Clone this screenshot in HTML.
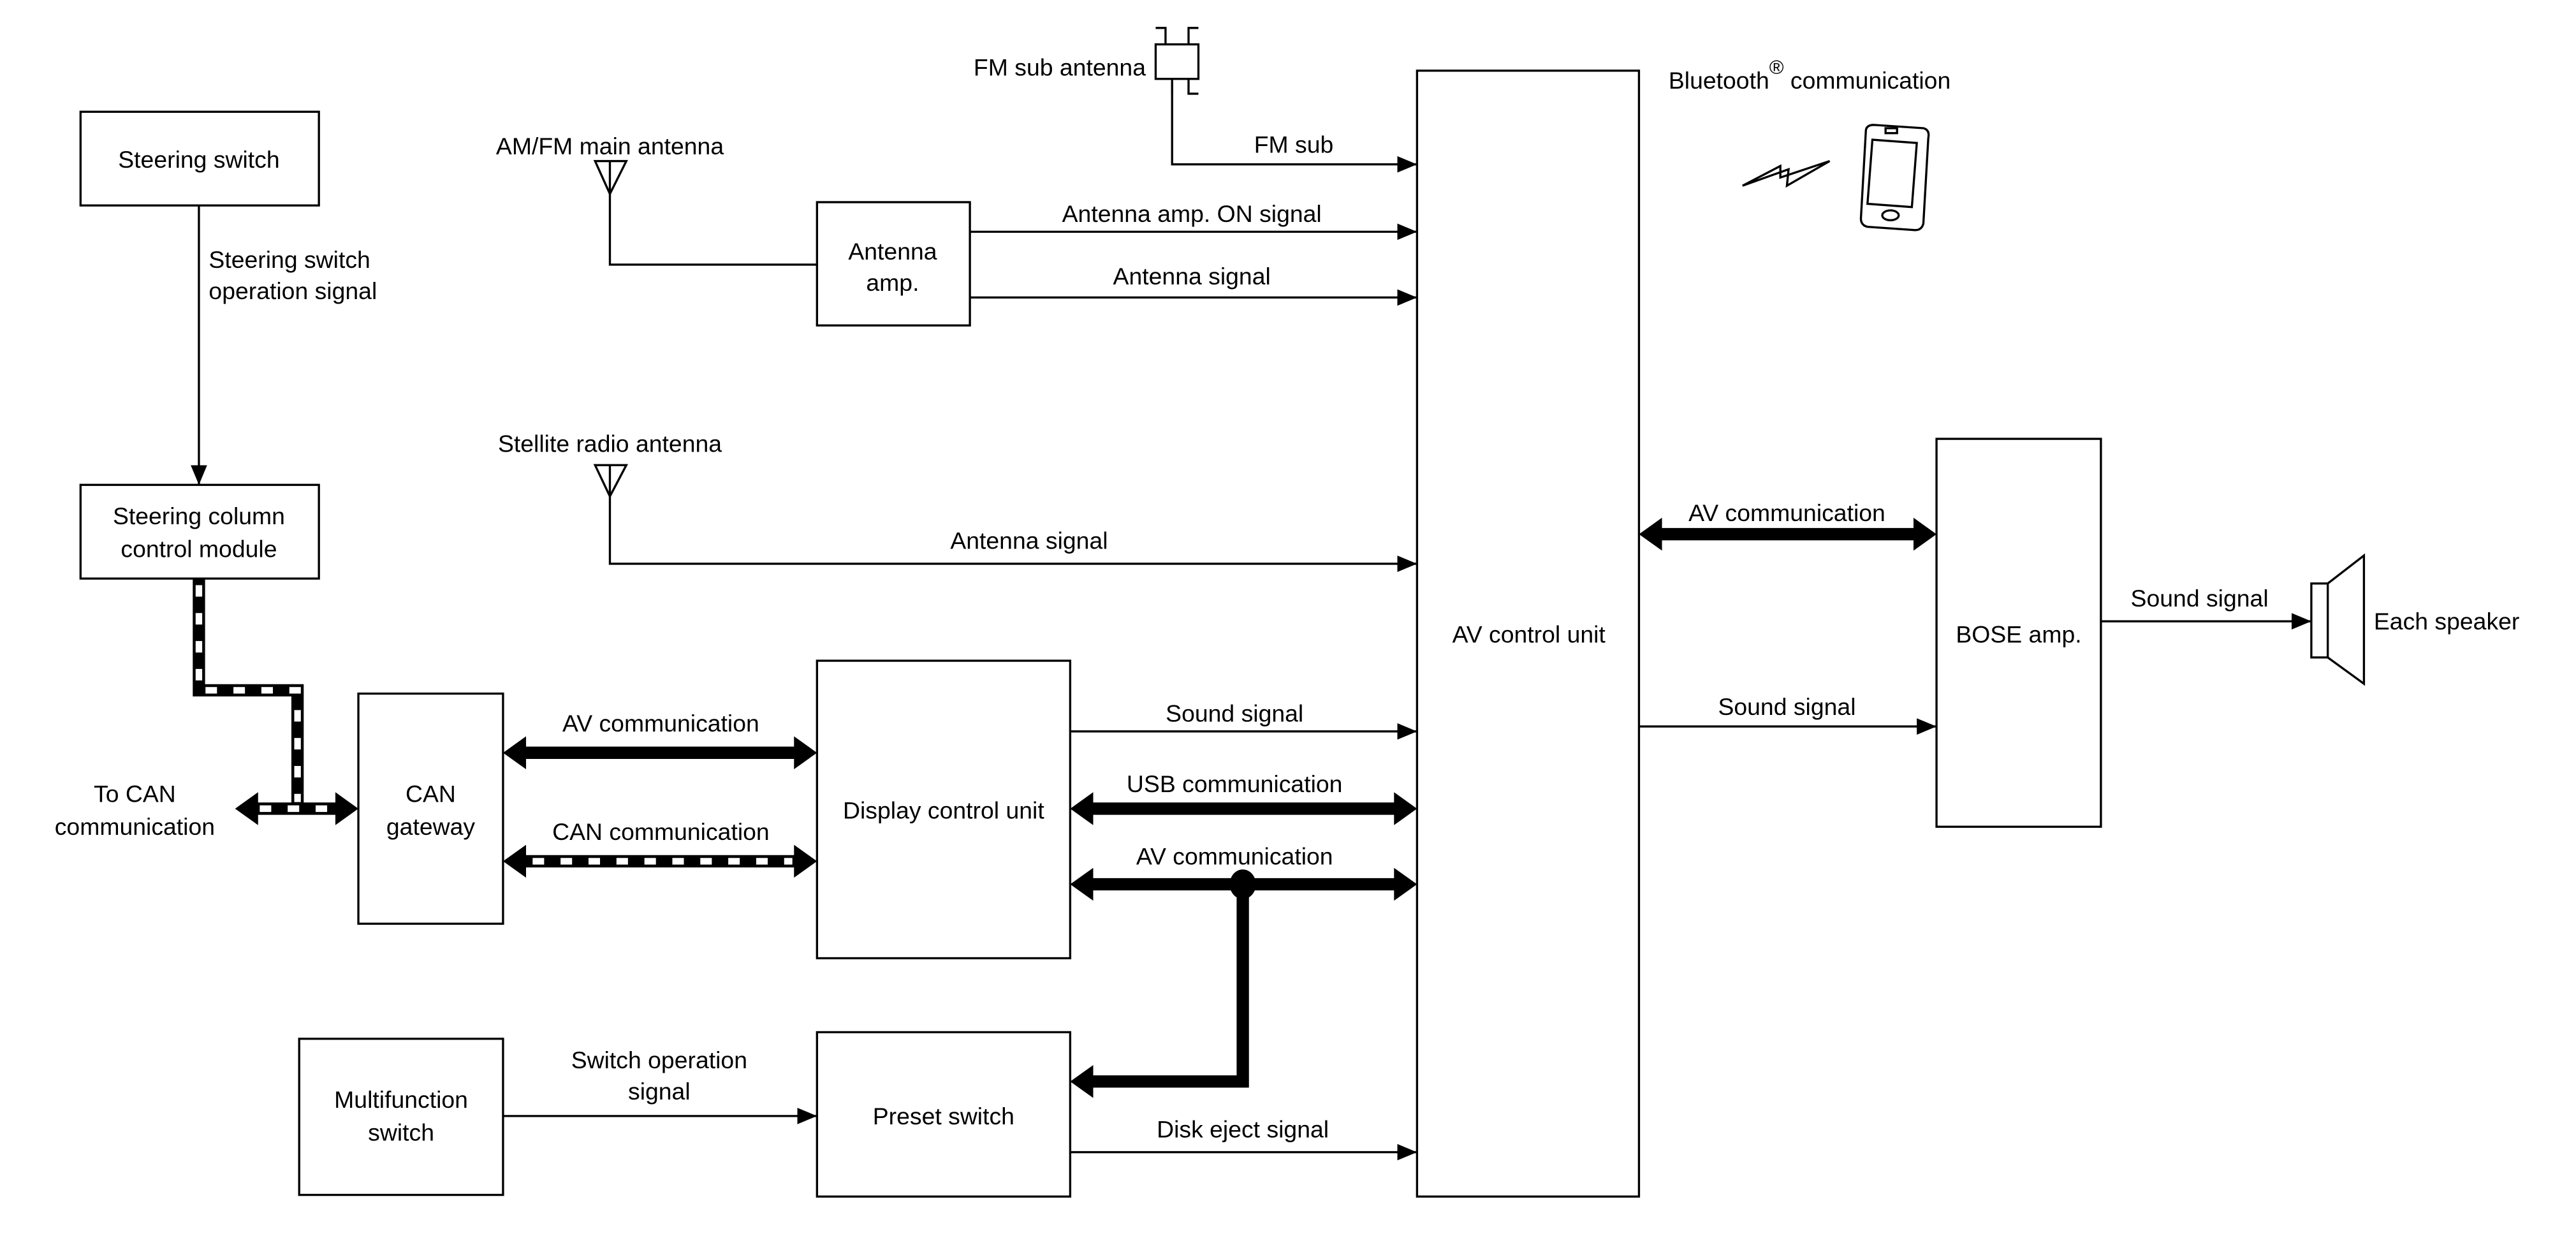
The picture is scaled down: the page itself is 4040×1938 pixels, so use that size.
<!DOCTYPE html>
<html><head><style>html,body{margin:0;padding:0;background:#fff}svg{display:block}text{font-family:"Liberation Sans",Arial,sans-serif;font-size:14.5px;fill:#000}</style></head>
<body>
<svg width="4040" height="1938" viewBox="0 0 1567 752" preserveAspectRatio="none" xmlns="http://www.w3.org/2000/svg">
<defs>
<marker id="a" markerWidth="12" markerHeight="10" refX="12" refY="5" orient="auto" markerUnits="userSpaceOnUse"><path d="M0,0 L12,5 L0,10z" fill="#000"/></marker>
</defs>
<g fill="none" stroke="#000" stroke-width="1.3">
<rect x="49" y="68" width="145" height="57"/>
<rect x="49" y="295" width="145" height="57"/>
<rect x="218" y="422" width="88" height="140"/>
<rect x="497" y="402" width="154" height="181"/>
<rect x="497" y="628" width="154" height="100"/>
<rect x="182" y="632" width="124" height="95"/>
<rect x="862" y="43" width="135" height="685"/>
<rect x="497" y="123" width="93" height="75"/>
<rect x="1178" y="267" width="100" height="236"/>
<line x1="121" y1="125" x2="121" y2="295" marker-end="url(#a)"/>
<line x1="651" y1="445" x2="862" y2="445" marker-end="url(#a)"/>
<line x1="651" y1="701" x2="862" y2="701" marker-end="url(#a)"/>
<line x1="306" y1="679" x2="497" y2="679" marker-end="url(#a)"/>
<polyline points="713,50 713,100 862,100" marker-end="url(#a)"/>
<polyline points="371,118 371,161 497,161"/>
<line x1="590" y1="141" x2="862" y2="141" marker-end="url(#a)"/>
<line x1="590" y1="181" x2="862" y2="181" marker-end="url(#a)"/>
<polyline points="371,302 371,343 862,343" marker-end="url(#a)"/>
<line x1="997" y1="442" x2="1178" y2="442" marker-end="url(#a)"/>
<line x1="1278" y1="378" x2="1406" y2="378" marker-end="url(#a)"/>
<path d="M362,98 L381,98 L371,118 Z M371,98 V118"/>
<path d="M362,283 L381,283 L371,302 Z M371,283 V302"/>
<path d="M703,17 H709 V27 M729,17 H723 V27 M703,27 H729 V48 H703 Z M713,48 V57 M723,48 V57 H729"/>
<rect x="1406" y="355" width="10" height="45"/>
<path d="M1416,355 L1438,338 L1438,416 L1416,400"/>
<path d="M1060,113 L1088,103 L1087,113 L1113,98 L1083,108 L1083,101 Z"/>
<path d="M1140,76 L1170,78 Q1174,79 1173,84 L1170,136 Q1169,140 1165,140 L1136,138 Q1132,137 1132,133 L1135,80 Q1135,76 1140,76 Z"/>
<path d="M1139,85 L1166,87 L1163,126 L1136,124 Z"/>
<ellipse cx="1150" cy="131" rx="5" ry="3"/>
<rect x="1147" y="78" width="7" height="3"/>
</g>
<g stroke="#000" stroke-width="7.5" fill="none">
<line x1="318" y1="458" x2="485" y2="458"/>
<line x1="663" y1="492" x2="850" y2="492"/>
<line x1="663" y1="538" x2="850" y2="538"/>
<polyline points="756,538 756,658 663,658"/>
<line x1="1009" y1="325" x2="1166" y2="325"/>
<line x1="318" y1="524" x2="485" y2="524"/>
<polyline points="121,352 121,420 181,420 181,492"/>
<line x1="155" y1="492" x2="206" y2="492"/>
</g>
<g stroke="#fff" stroke-width="4" fill="none" stroke-dasharray="7,10">
<line x1="324" y1="524" x2="482" y2="524"/>
<polyline points="121,356 121,420 181,420 181,488"/>
<line x1="158" y1="492" x2="204" y2="492"/>
</g>
<g fill="#000">
<path d="M306,458 L320,448 L320,468Z M497,458 L483,448 L483,468Z"/>
<path d="M306,524 L320,514 L320,534Z M497,524 L483,514 L483,534Z"/>
<path d="M651,492 L665,482 L665,502Z M862,492 L848,482 L848,502Z"/>
<path d="M651,538 L665,528 L665,548Z M862,538 L848,528 L848,548Z"/>
<path d="M651,658 L665,648 L665,668Z"/>
<path d="M997,325 L1011,315 L1011,335Z M1178,325 L1164,315 L1164,335Z"/>
<path d="M143,492 L157,482 L157,502Z M218,492 L204,482 L204,502Z"/>
<ellipse cx="756" cy="538" rx="8" ry="9"/>
</g>
<g text-anchor="middle">
<text x="121" y="102">Steering switch</text>
<text x="121" y="319">Steering column</text>
<text x="121" y="339">control module</text>
<text x="262" y="488">CAN</text>
<text x="262" y="508">gateway</text>
<text x="82" y="488">To CAN</text>
<text x="82" y="508">communication</text>
<text x="402" y="445">AV communication</text>
<text x="402" y="511">CAN communication</text>
<text x="574" y="498">Display control unit</text>
<text x="751" y="439">Sound signal</text>
<text x="751" y="482">USB communication</text>
<text x="751" y="526">AV communication</text>
<text x="574" y="684">Preset switch</text>
<text x="756" y="692">Disk eject signal</text>
<text x="244" y="674">Multifunction</text>
<text x="244" y="694">switch</text>
<text x="401" y="650">Switch operation</text>
<text x="401" y="669">signal</text>
<text x="930" y="391">AV control unit</text>
<text x="787" y="93">FM sub</text>
<text x="371" y="94">AM/FM main antenna</text>
<text x="543" y="158">Antenna</text>
<text x="543" y="177">amp.</text>
<text x="725" y="135">Antenna amp. ON signal</text>
<text x="725" y="173">Antenna signal</text>
<text x="371" y="275">Stellite radio antenna</text>
<text x="626" y="334">Antenna signal</text>
<text x="1087" y="317">AV communication</text>
<text x="1087" y="435">Sound signal</text>
<text x="1228" y="391">BOSE amp.</text>
<text x="1338" y="369">Sound signal</text>
</g>
<text x="697" y="46" text-anchor="end">FM sub antenna</text>
<text x="127" y="163">Steering switch</text>
<text x="127" y="182">operation signal</text>
<text x="1444" y="383">Each speaker</text>
<text x="1015" y="54">Bluetooth<tspan dy="-9" font-size="12">®</tspan><tspan dy="9"> communication</tspan></text>
</svg>
</body></html>
